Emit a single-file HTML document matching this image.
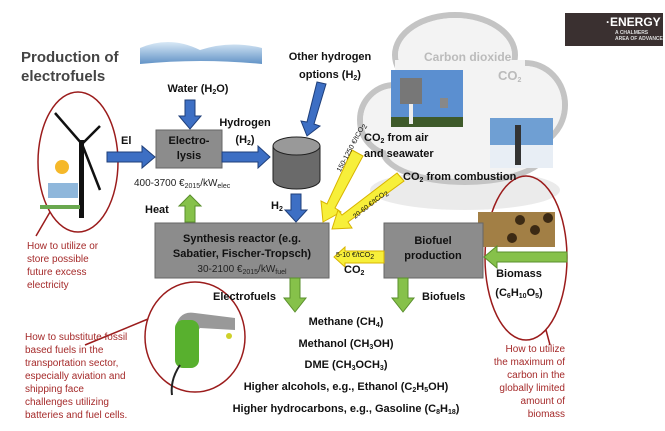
<!DOCTYPE html>
<html><head><meta charset="utf-8"><style>
body{margin:0;width:665px;height:431px;background:#fff;overflow:hidden;position:relative;font-family:"Liberation Sans",sans-serif}
.t{position:absolute;white-space:nowrap;font-weight:bold;color:#111;font-size:11px}
.r{position:absolute;color:#a52a2a;font-size:10px;line-height:13px;white-space:nowrap}
sub{font-size:7px;vertical-align:-2px;line-height:0}
.c{text-align:center;transform:translateX(-50%)}
</style></head><body>
<svg width="665" height="431" style="position:absolute;left:0;top:0">
<defs>
<linearGradient id="wa" x1="0" x2="0" y1="0" y2="1"><stop offset="0" stop-color="#cfe3f4"/><stop offset="1" stop-color="#3b78b8"/></linearGradient>
</defs>
<path d="M140 48 Q170 35 200 50 Q230 40 262 48 L262 64 Q200 58 140 64Z" fill="url(#wa)" opacity="0.8"/>
<ellipse cx="465" cy="190" rx="95" ry="20" fill="#e2e2e2" opacity="0.7"/>
<g fill="#f3f3f3" stroke="#c4c4c4" stroke-width="6">
<ellipse cx="455" cy="55" rx="60" ry="40"/><ellipse cx="395" cy="120" rx="35" ry="35"/><ellipse cx="525" cy="105" rx="40" ry="42"/><ellipse cx="465" cy="150" rx="82" ry="32"/>
</g>
<g fill="#f3f3f3"><ellipse cx="455" cy="55" rx="57" ry="37"/><ellipse cx="395" cy="120" rx="32" ry="32"/><ellipse cx="525" cy="105" rx="37" ry="39"/><ellipse cx="465" cy="150" rx="79" ry="29"/><rect x="395" y="60" width="130" height="90"/></g>
<rect x="391" y="70" width="72" height="57" fill="#5b8fd0"/><rect x="391" y="117" width="72" height="10" fill="#3e5a2a"/><rect x="400" y="78" width="22" height="26" fill="#777"/><rect x="409" y="104" width="4" height="20" fill="#eee"/><rect x="440" y="98" width="8" height="10" fill="#888"/>
<rect x="490" y="118" width="63" height="50" fill="#6f9fd3"/><rect x="490" y="145" width="63" height="23" fill="#e8eef5"/><rect x="515" y="125" width="6" height="40" fill="#333"/>
<rect x="565" y="13" width="98" height="33" fill="#3a3030"/>
<g fill="none" stroke="#9b1c1c" stroke-width="1.5">
<ellipse cx="78" cy="162" rx="40" ry="70"/><line x1="50" y1="212" x2="36" y2="236"/>
<ellipse cx="195" cy="337" rx="50" ry="55"/><line x1="148" y1="319" x2="85" y2="345"/>
<ellipse cx="526" cy="258" rx="41" ry="82"/><line x1="546" y1="330" x2="550" y2="345"/>
</g>
<rect x="79" y="140" width="5" height="78" fill="#111"/>
<path d="M82 144 L55 113 M82 144 L100 126 M82 144 L100 190" stroke="#111" stroke-width="2.5"/>
<circle cx="62" cy="167" r="7" fill="#f5b82a"/><rect x="48" y="183" width="30" height="15" fill="#8fb7db"/><rect x="40" y="205" width="40" height="4" fill="#6aa84f"/>
<path d="M175 330 Q178 310 195 313 L235 318 L235 330 L200 328 L190 340 Z" fill="#999"/>
<rect x="175" y="320" width="24" height="48" rx="8" fill="#58b02e"/><path d="M180 365 Q170 380 172 395" stroke="#222" stroke-width="2" fill="none"/>
<circle cx="229" cy="336" r="3" fill="#cfd12a"/>
<rect x="478" y="212" width="77" height="35" fill="#a27f45"/><g fill="#3c2a14"><circle cx="520" cy="220" r="5"/><circle cx="535" cy="230" r="5"/><circle cx="548" cy="218" r="5"/><circle cx="512" cy="238" r="5"/></g>
<rect x="156" y="130" width="66" height="38" fill="#8c8c8c" stroke="#666"/>
<rect x="155" y="223" width="174" height="55" fill="#8c8c8c" stroke="#666"/>
<rect x="384" y="223" width="99" height="55" fill="#8c8c8c" stroke="#666"/>
<path d="M273 146 L273 180 A23.5 9 0 0 0 320 180 L320 146Z" fill="#6a6a6a" stroke="#222"/>
<ellipse cx="296.5" cy="146" rx="23.5" ry="9" fill="#999" stroke="#222"/>
<g fill="#3d6fc4" stroke="#1f3f7a" stroke-width="1">
<path d="M107 152 H142 V146 L155 157 L142 168 V162 H107Z"/>
<path d="M222 152 H258 V146 L270 157 L258 168 V162 H222Z"/>
<path d="M185 100 H195 V116 H201 L190 129 L179 116 H185Z"/>
<path d="M291 194 H301 V210 H307 L296 222 L285 210 H291Z"/>
<path d="M317 82 L326 84 L314 124 L320 126 L307 136 L301 121 L307 122Z"/>
</g>
<g fill="#86c14a" stroke="#5a8f2c" stroke-width="1">
<path d="M185 222 V206 H179 L190 195 L201 206 H195 V222Z"/>
<path d="M290 278 V298 H284 L295 312 L306 298 H300 V278Z"/>
<path d="M398 278 V298 H392 L403 312 L414 298 H408 V278Z"/>
<path d="M567 252 H497 V246 L484 257 L497 268 V262 H567Z"/>
</g>
<g fill="#f7ef3a" stroke="#d8b400" stroke-width="1">
<path d="M352 150 L363 156 L335 208 L341 212 L323 222 L321 201 L327 204Z"/>
<path d="M397 173 L404 181 L348 222 L352 228 L332 229 L338 210 L342 215Z"/>
<path d="M384 251 V263 H345 V267 L334 257 L345 247 V251Z"/>
</g>
</svg>
<div class="t" style="left:21px;top:48px;font-size:15px;color:#444;line-height:19px">Production of<br>electrofuels</div>
<div class="t c" style="left:330px;top:48px;line-height:18px">Other hydrogen<br>options (H<sub>2</sub>)</div>
<div class="t c" style="left:198px;top:83px">Water (H<sub>2</sub>O)</div>
<div class="t" style="left:121px;top:135px">El</div>
<div class="t c" style="left:189px;top:134px;line-height:15px">Electro-<br>lysis</div>
<div class="t c" style="left:245px;top:115px;line-height:17px">Hydrogen<br>(H<sub>2</sub>)</div>
<div class="t" style="left:134px;top:178px;font-weight:normal;font-size:10px;color:#222">400-3700 €<sub>2015</sub>/kW<sub>elec</sub></div>
<div class="t" style="left:271px;top:200px">H<sub>2</sub></div>
<div class="t" style="left:145px;top:204px">Heat</div>
<div class="t c" style="left:242px;top:232px;line-height:15px">Synthesis reactor (e.g.<br>Sabatier, Fischer-Tropsch)</div>
<div class="t c" style="left:242px;top:264px;font-weight:normal;font-size:10px;color:#222">30-2100 €<sub>2015</sub>/kW<sub>fuel</sub></div>
<div class="t c" style="left:433px;top:234px;line-height:15px">Biofuel<br>production</div>
<div class="t" style="left:344px;top:264px">CO<sub>2</sub></div>
<div class="t" style="left:336px;top:252px;font-size:7px;font-weight:normal">5-10 €/tCO<sub>2</sub></div>
<div class="t" style="left:336px;top:170px;font-size:7px;font-weight:normal;transform:rotate(-62deg);transform-origin:0 0">150-1250 €/tCO<sub>2</sub></div>
<div class="t" style="left:352px;top:215px;font-size:7px;font-weight:normal;transform:rotate(-38deg);transform-origin:0 0">20-60 €/tCO<sub>2</sub></div>
<div class="t" style="left:424px;top:50px;color:#bbb;font-size:12px">Carbon dioxide</div>
<div class="t" style="left:498px;top:68px;color:#bbb;font-size:13px">CO<sub>2</sub></div>
<div class="t" style="left:364px;top:130px;line-height:16px">CO<sub>2</sub> from air<br>and seawater</div>
<div class="t" style="left:403px;top:171px">CO<sub>2</sub> from combustion</div>
<div class="t c" style="left:519px;top:265px;line-height:19px">Biomass<br>(C<sub>6</sub>H<sub>10</sub>O<sub>5</sub>)</div>
<div class="t" style="left:213px;top:291px">Electrofuels</div>
<div class="t" style="left:422px;top:291px">Biofuels</div>
<div class="t c" style="left:346px;top:312px;line-height:21.7px">Methane (CH<sub>4</sub>)<br>Methanol (CH<sub>3</sub>OH)<br>DME (CH<sub>3</sub>OCH<sub>3</sub>)<br>Higher alcohols, e.g., Ethanol (C<sub>2</sub>H<sub>5</sub>OH)<br>Higher hydrocarbons, e.g., Gasoline (C<sub>8</sub>H<sub>18</sub>)</div>
<div class="r" style="left:27px;top:240px">How to utilize or<br>store possible<br>future excess<br>electricity</div>
<div class="r" style="left:25px;top:331px">How to substitute fossil<br>based fuels in the<br>transportation sector,<br>especially aviation and<br>shipping face<br>challenges utilizing<br>batteries and fuel cells.</div>
<div class="r" style="right:100px;top:343px;text-align:right">How to utilize<br>the maximum of<br>carbon in the<br>globally limited<br>amount of<br>biomass</div>
<div class="t" style="left:606px;top:15px;color:#fff;font-size:12px">·ENERGY</div>
<div class="t" style="left:615px;top:30px;color:#ddd;font-size:5px;line-height:6px">A CHALMERS<br>AREA OF ADVANCE</div>
</body></html>
